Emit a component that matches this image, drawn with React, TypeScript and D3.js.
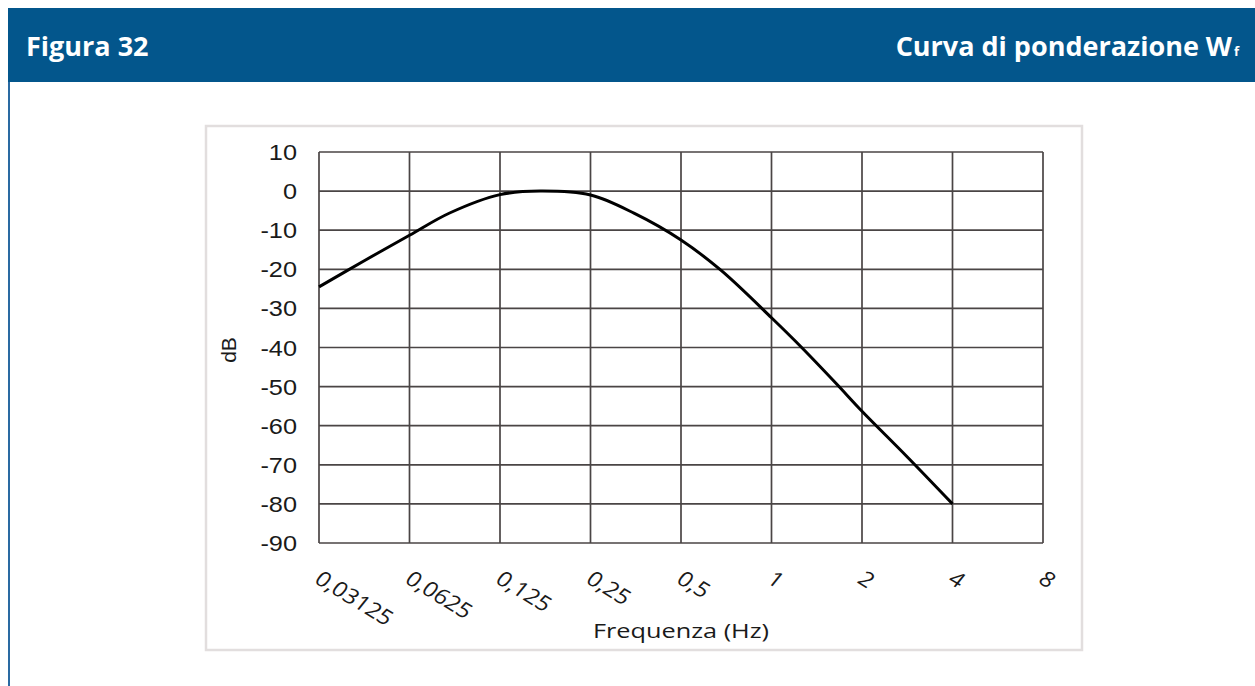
import React from "react";
import * as d3 from "d3";

const freqTicks = [0.03125, 0.0625, 0.125, 0.25, 0.5, 1, 2, 4, 8];
const freqTickLabels = ["0,03125", "0,0625", "0,125", "0,25", "0,5", "1", "2", "4", "8"];
const dbTicks = [10, 0, -10, -20, -30, -40, -50, -60, -70, -80, -90];

const curveFreq = [0.03125, 0.0442, 0.0625, 0.085, 0.125, 0.17, 0.25, 0.35, 0.5, 0.68, 1, 1.26, 1.65, 2, 2.83, 4];
const curveDb = [-24.5, -17.8, -11.3, -5.6, -0.9, 0, -1.0, -5.7, -12.5, -20.3, -32.4, -40, -49.4, -56.3, -68, -80];

const headerLeft = "Figura 32";
const headerRight = "Curva di ponderazione W";
const headerSub = "f";
const yTitle = "dB";
const xTitle = "Frequenza (Hz)";

export default function App() {
  const W = 1255;
  const H = 686;
  const x = d3.scaleLog().base(2).domain([0.03125, 8]).range([319, 1043]);
  const y = d3.scaleLinear().domain([-90, 10]).range([543, 152]);
  const pts: [number, number][] = curveFreq.map((f, i) => [x(f), y(curveDb[i])]);
  const line = d3.line().curve(d3.curveCatmullRom.alpha(0.5))(pts) || "";
  const sx = 1.15;
  const gridColor = "#4a4545";

  return (
    <svg
      width={W}
      height={H}
      style={{ position: "absolute", left: 0, top: 0, display: "block" }}
    >
      <rect x={0} y={0} width={W} height={H} fill="#ffffff" />
      {/* header */}
      <rect x={8} y={8} width={W - 8} height={74} fill="#03568c" />
      <rect x={8} y={82} width={2} height={H - 82} fill="#2a6aa2" />
      <text
        x={26}
        y={56}
        fill="#ffffff"
        fontFamily="'Open Sans', sans-serif"
        fontWeight={700}
        fontSize={27}
      >
        {headerLeft}
      </text>
      <text
        x={1239}
        y={56}
        fill="#ffffff"
        textAnchor="end"
        fontFamily="'Open Sans', sans-serif"
        fontWeight={700}
        fontSize={27}
      >
        {headerRight}
        <tspan fontSize={13} dx={2}>{headerSub}</tspan>
      </text>

      {/* chart frame */}
      <rect x={206} y={126} width={876} height={524} fill="#ffffff" stroke="#e2dede" strokeWidth={2.5} />

      {/* grid */}
      {dbTicks.map((d) => (
        <line key={"h" + d} x1={x(0.03125)} x2={x(8)} y1={y(d)} y2={y(d)} stroke={gridColor} strokeWidth={1.7} />
      ))}
      {freqTicks.map((f) => (
        <line key={"v" + f} x1={x(f)} x2={x(f)} y1={y(10)} y2={y(-90)} stroke={gridColor} strokeWidth={1.7} />
      ))}

      {/* curve */}
      <path d={line} fill="none" stroke="#000000" strokeWidth={3} strokeLinejoin="round" />

      {/* y tick labels */}
      {dbTicks.map((d) => (
        <text
          key={"yl" + d}
          transform={`translate(297,${y(d) + 8}) scale(${sx},1)`}
          textAnchor="end"
          fontFamily="'Liberation Sans', Arial, sans-serif"
          fontSize={22}
          fill="#1a1a1a"
        >
          {d}
        </text>
      ))}
      <text
        transform={`translate(236,350) rotate(-90)`}
        textAnchor="middle"
        fontFamily="'Liberation Sans', Arial, sans-serif"
        fontSize={21}
        fill="#1a1a1a"
      >
        {yTitle}
      </text>

      {/* x tick labels */}
      {freqTicks.map((f, i) => (
        <text
          key={"xl" + f}
          transform={`translate(${x(f) - 6},582) scale(${sx},1) rotate(35)`}
          fontFamily="'Open Sans', sans-serif"
          fontSize={21}
          fill="#1a1a1a"
        >
          {freqTickLabels[i]}
        </text>
      ))}
      <text
        x={593}
        y={638}
        textLength={176}
        lengthAdjust="spacingAndGlyphs"
        fontFamily="'Open Sans', sans-serif"
        fontSize={20}
        fill="#1a1a1a"
      >
        {xTitle}
      </text>
    </svg>
  );
}
